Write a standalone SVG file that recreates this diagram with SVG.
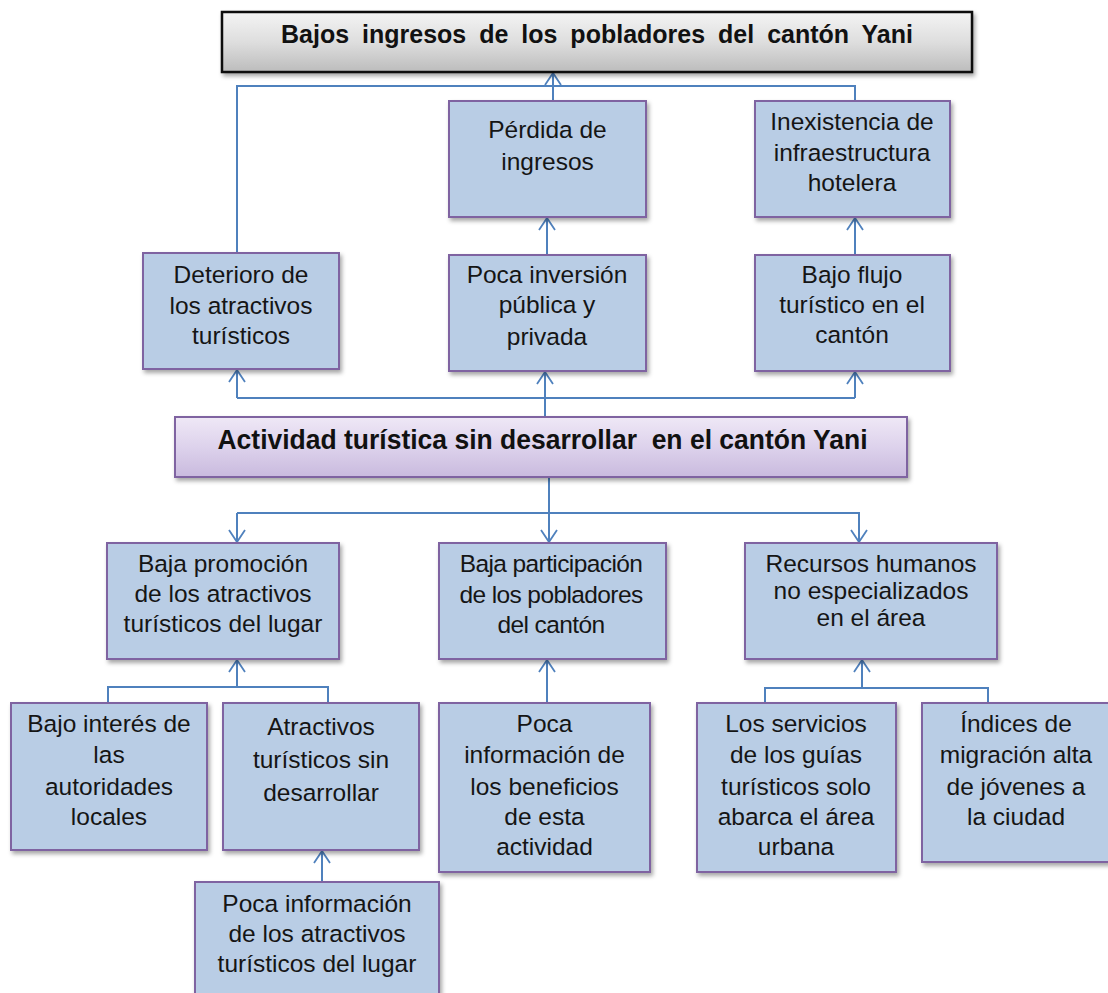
<svg xmlns="http://www.w3.org/2000/svg" width="1108" height="993" viewBox="0 0 1108 993">
<defs>
<linearGradient id="gTop" x1="0" y1="0" x2="0" y2="1">
<stop offset="0" stop-color="#f4f4f4"/>
<stop offset="0.5" stop-color="#dedede"/>
<stop offset="1" stop-color="#bcbcbc"/>
</linearGradient>
<linearGradient id="gMid" x1="0" y1="0" x2="0" y2="1">
<stop offset="0" stop-color="#efe8f6"/>
<stop offset="0.5" stop-color="#ddd2ec"/>
<stop offset="1" stop-color="#c9bade"/>
</linearGradient>
<filter id="sh" x="-10%" y="-10%" width="125%" height="130%">
<feDropShadow dx="2" dy="3" stdDeviation="2" flood-color="#000" flood-opacity="0.35"/>
</filter>
<marker id="arr" viewBox="0 0 14 18" refX="13" refY="9" markerWidth="14" markerHeight="18" orient="auto" markerUnits="userSpaceOnUse">
<path d="M1,1 L13,9 L1,17" fill="none" stroke="#4f81bd" stroke-width="1.8"/>
</marker>
</defs>
<style>
.box{fill:#b9cde5;stroke:#7f63a1;stroke-width:2;filter:url(#sh)}
.t{font-family:"Liberation Sans",Arial,sans-serif;font-size:24.5px;fill:#151515;text-anchor:middle}
.c{fill:none;stroke:#4f81bd;stroke-width:2}
.ca{fill:none;stroke:#4f81bd;stroke-width:2;marker-end:url(#arr)}
</style>
<rect width="1108" height="993" fill="#ffffff"/>

<g id="connectors">
<path class="c" d="M237,253 V86 H855 V101"/>
<path class="ca" d="M553,101 V73"/>
<path class="ca" d="M547,255 V218"/>
<path class="ca" d="M855,255 V218"/>
<path class="c" d="M545,417 V398 M237,398 H855"/>
<path class="ca" d="M237,398 V370"/>
<path class="ca" d="M545,398 V372"/>
<path class="ca" d="M855,398 V372"/>
<path class="c" d="M549,477 V513 M237,513 H860"/>
<path class="ca" d="M237,513 V542"/>
<path class="ca" d="M549,513 V542"/>
<path class="ca" d="M859,513 V542"/>
<path class="c" d="M108,703 V687 H328 V703"/>
<path class="ca" d="M237,687 V660"/>
<path class="ca" d="M547,703 V660"/>
<path class="c" d="M765,703 V688 H988 V703"/>
<path class="ca" d="M862,688 V660"/>
<path class="ca" d="M322,882 V851"/>
</g>

<g id="top">
<rect x="222" y="12" width="750" height="60" fill="url(#gTop)" stroke="#111" stroke-width="2.5" filter="url(#sh)"/>
<text x="597" y="43" font-family="'Liberation Sans',Arial,sans-serif" font-size="25" font-weight="bold" fill="#111" text-anchor="middle" word-spacing="6">Bajos ingresos de los pobladores del cantón Yani</text>
</g>

<g id="perdida">
<rect class="box" x="449" y="101" width="197" height="116"/>
<text class="t"><tspan x="547.5" y="138">Pérdida de</tspan><tspan x="547.5" y="170">ingresos</tspan></text>
</g>

<g id="inexistencia">
<rect class="box" x="755" y="101" width="195" height="116"/>
<text class="t"><tspan x="852" y="130">Inexistencia de</tspan><tspan x="852" y="161">infraestructura</tspan><tspan x="852" y="191">hotelera</tspan></text>
</g>

<g id="deterioro">
<rect class="box" x="143" y="253" width="196" height="116"/>
<text class="t"><tspan x="241" y="283">Deterioro de</tspan><tspan x="241" y="314">los atractivos</tspan><tspan x="241" y="344">turísticos</tspan></text>
</g>

<g id="inversion">
<rect class="box" x="449" y="255" width="197" height="116"/>
<text class="t"><tspan x="547" y="283">Poca inversión</tspan><tspan x="547" y="313">pública y</tspan><tspan x="547" y="345">privada</tspan></text>
</g>

<g id="flujo">
<rect class="box" x="755" y="255" width="195" height="116"/>
<text class="t"><tspan x="852" y="283">Bajo flujo</tspan><tspan x="852" y="313">turístico en el</tspan><tspan x="852" y="343">cantón</tspan></text>
</g>

<g id="actividad">
<rect x="175" y="417" width="732" height="60" fill="url(#gMid)" stroke="#7f63a1" stroke-width="2" filter="url(#sh)"/>
<text x="542.5" y="449" font-family="'Liberation Sans',Arial,sans-serif" font-size="27" font-weight="bold" fill="#111" text-anchor="middle" textLength="650" lengthAdjust="spacingAndGlyphs">Actividad turística sin desarrollar&#160; en el cantón Yani</text>
</g>

<g id="promocion">
<rect class="box" x="107" y="543" width="232" height="116"/>
<text class="t"><tspan x="223" y="572">Baja promoción</tspan><tspan x="223" y="602">de los atractivos</tspan><tspan x="223" y="632">turísticos del lugar</tspan></text>
</g>

<g id="participacion">
<rect class="box" x="439" y="543" width="227" height="116"/>
<text class="t" letter-spacing="-0.6"><tspan x="551" y="572">Baja participación</tspan><tspan x="551" y="603">de los pobladores</tspan><tspan x="551" y="633">del cantón</tspan></text>
</g>

<g id="recursos">
<rect class="box" x="745" y="543" width="252" height="116"/>
<text class="t"><tspan x="871" y="572">Recursos humanos</tspan><tspan x="871" y="599">no especializados</tspan><tspan x="871" y="626">en el área</tspan></text>
</g>

<g id="interes">
<rect class="box" x="11" y="703" width="196" height="147"/>
<text class="t"><tspan x="109" y="732">Bajo interés de</tspan><tspan x="109" y="763">las</tspan><tspan x="109" y="795">autoridades</tspan><tspan x="109" y="825">locales</tspan></text>
</g>

<g id="atractivos">
<rect class="box" x="223" y="703" width="196" height="147"/>
<text class="t"><tspan x="321" y="735">Atractivos</tspan><tspan x="321" y="768">turísticos sin</tspan><tspan x="321" y="801">desarrollar</tspan></text>
</g>

<g id="beneficios">
<rect class="box" x="439" y="703" width="211" height="169"/>
<text class="t"><tspan x="544.5" y="732">Poca</tspan><tspan x="544.5" y="763">información de</tspan><tspan x="544.5" y="795">los beneficios</tspan><tspan x="544.5" y="825">de esta</tspan><tspan x="544.5" y="855">actividad</tspan></text>
</g>

<g id="servicios">
<rect class="box" x="697" y="703" width="199" height="169"/>
<text class="t"><tspan x="796" y="732">Los servicios</tspan><tspan x="796" y="763">de los guías</tspan><tspan x="796" y="795">turísticos solo</tspan><tspan x="796" y="825">abarca el área</tspan><tspan x="796" y="855">urbana</tspan></text>
</g>

<g id="indices">
<rect class="box" x="922" y="703" width="192" height="159"/>
<text class="t"><tspan x="1016" y="732">Índices de</tspan><tspan x="1016" y="763">migración alta</tspan><tspan x="1016" y="795">de jóvenes a</tspan><tspan x="1016" y="825">la ciudad</tspan></text>
</g>

<g id="informacion">
<rect class="box" x="195" y="882" width="244" height="120"/>
<text class="t"><tspan x="317" y="912">Poca información</tspan><tspan x="317" y="942">de los atractivos</tspan><tspan x="317" y="972">turísticos del lugar</tspan></text>
</g>
</svg>
